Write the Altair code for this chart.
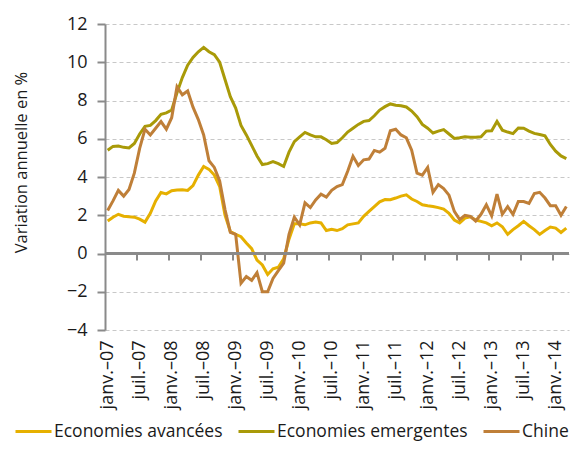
import altair as alt
import pandas as pd

# ---------------- data ----------------
mois = ["janv.", "févr.", "mars", "avr.", "mai", "juin",
        "juil.", "août", "sept.", "oct.", "nov.", "déc."]
months = [f"{mois[m]}–{y:02d}" for y in range(7, 15) for m in range(12)][:87]  # janv.-07 .. mars-14

series = ["Economies avancées", "Economies emergentes", "Chine"]
colors = ["#E6B000", "#A99A08", "#BF7F38"]

advanced = [1.7, 1.9, 2.05, 1.95, 1.92, 1.9, 1.8, 1.64, 2.1, 2.75,
            3.19, 3.12, 3.28, 3.32, 3.33, 3.3, 3.55, 4.1, 4.55, 4.4,
            4.1, 3.5, 2.0, 1.15, 1.0, 0.88, 0.55, 0.25, -0.35, -0.6,
            -1.1, -0.8, -0.72, -0.28, 0.75, 1.55, 1.55, 1.5, 1.6, 1.65,
            1.6, 1.2, 1.27, 1.2, 1.3, 1.5, 1.55, 1.6, 1.94, 2.2,
            2.45, 2.7, 2.82, 2.81, 2.9, 3.0, 3.07, 2.85, 2.72, 2.55,
            2.5, 2.46, 2.4, 2.32, 2.1, 1.75, 1.6, 1.85, 1.92, 1.75,
            1.68, 1.6, 1.45, 1.6, 1.4, 1.0, 1.25, 1.45, 1.68, 1.45,
            1.25, 1.0, 1.2, 1.38, 1.33, 1.1, 1.33]

emerging = [5.4, 5.6, 5.62, 5.55, 5.52, 5.75, 6.25, 6.65, 6.7, 6.95,
            7.28, 7.35, 7.5, 8.4, 9.2, 9.85, 10.25, 10.55, 10.78, 10.55,
            10.4, 10.0, 9.1, 8.2, 7.6, 6.7, 6.2, 5.65, 5.1, 4.65,
            4.7, 4.8, 4.7, 4.55, 5.3, 5.85, 6.1, 6.33, 6.2, 6.1,
            6.1, 5.95, 5.75, 5.8, 6.05, 6.35, 6.55, 6.75, 6.91, 6.95,
            7.2, 7.5, 7.68, 7.82, 7.75, 7.72, 7.66, 7.45, 7.15, 6.75,
            6.55, 6.3, 6.4, 6.48, 6.25, 6.02, 6.05, 6.1, 6.08, 6.08,
            6.1, 6.4, 6.42, 6.9, 6.45, 6.35, 6.27, 6.56, 6.55, 6.4,
            6.28, 6.22, 6.15, 5.7, 5.35, 5.1, 4.96]

china = [2.25, 2.75, 3.3, 3.0, 3.35, 4.2, 5.5, 6.5, 6.2, 6.55,
         6.9, 6.5, 7.1, 8.72, 8.3, 8.5, 7.65, 7.0, 6.2, 4.85,
         4.5, 3.8, 2.3, 1.1, 1.0, -1.55, -1.2, -1.4, -1.0, -2.0,
         -2.0, -1.3, -0.9, -0.5, 1.0, 1.9, 1.5, 2.65, 2.4, 2.8,
         3.1, 2.95, 3.3, 3.5, 3.6, 4.3, 5.08, 4.6, 4.9, 4.94,
         5.39, 5.3, 5.5, 6.42, 6.5, 6.2, 6.05, 5.4, 4.2, 4.1,
         4.5, 3.2, 3.6, 3.4, 3.05, 2.2, 1.78, 2.0, 1.94, 1.7,
         2.05, 2.55, 1.97, 3.1, 2.05, 2.45, 2.05, 2.72, 2.72, 2.62,
         3.13, 3.2, 2.9, 2.5, 2.5, 2.0, 2.46]

tick_labels = months[::6]
y_values = [-4, -2, 0, 2, 4, 6, 8, 10, 12]

rows = []
for name, vals in zip(series, [advanced, emerging, china]):
    for i, v in enumerate(vals):
        rows.append({"idx": i, "mois": months[i], "serie": name, "valeur": v})
df = pd.DataFrame(rows)

# category boundaries where the horizontal axis carries its tick marks
boundaries = pd.DataFrame({"b": [6 * k - 0.5 for k in range(1, 15)]})

# ---------------- layout ----------------
W, H = 464, 306
FONT = "Open Sans"
TXT = "#1a1a1a"
AX = "#8a8a8a"
TICK_DEPTH = -0.37  # ~7 px below zero

label_array = "[" + ",".join("'" + t + "'" for t in tick_labels) + "]"

x_scale = alt.Scale(domain=[-0.5, len(months) - 0.5], nice=False, zero=False)
y_scale = alt.Scale(domain=[-4, 12], nice=False)

x_axis = alt.Axis(
    orient="bottom",
    values=list(range(0, len(months), 6)),
    labelExpr=label_array + "[round(datum.value/6)]",
    labelAngle=270, labelAlign="right", labelBaseline="middle",
    labelFont=FONT, labelFontSize=18, labelColor=TXT,
    labelPadding=10, ticks=False, tickSize=0, domain=False, grid=False,
    title=None, labelOverlap=False,
)
y_axis = alt.Axis(
    values=y_values, title="Variation annuelle en %",
    titleFont=FONT, titleFontSize=16.5, titleFontWeight="normal", titleColor=TXT,
    titleAngle=270, titleAlign="center", titleBaseline="middle",
    titleX=-84, titleY=138,
    labelFont=FONT, labelFontSize=18, labelColor=TXT, labelPadding=10,
    domainColor=AX, domainWidth=2, tickColor=AX, tickWidth=2, tickSize=8,
    gridColor="#c8c8c8", gridDash=[4, 3], gridWidth=1,
)

lines = alt.Chart(df).mark_line(strokeWidth=3).encode(
    x=alt.X("idx:Q", scale=x_scale, axis=x_axis),
    y=alt.Y("valeur:Q", scale=y_scale, axis=y_axis),
    color=alt.Color(
        "serie:N",
        scale=alt.Scale(domain=series, range=colors),
        legend=alt.Legend(
            title=None, orient="none", legendX=-91, legendY=388,
            direction="horizontal", symbolType="stroke", symbolSize=1296,
            symbolStrokeWidth=3, labelFont=FONT, labelFontSize=17.5,
            labelColor=TXT, labelLimit=400, columnPadding=9, labelOffset=1,
        ),
    ),
    detail="serie:N",
)

zero_line = alt.Chart(df).mark_rule(color=AX, strokeWidth=2).encode(
    y=alt.YDatum(0, scale=y_scale, axis=y_axis),
)

zero_ticks = alt.Chart(boundaries).mark_rule(color=AX, strokeWidth=2).encode(
    x=alt.X("b:Q", scale=x_scale, axis=x_axis),
    y=alt.YDatum(0, scale=y_scale, axis=y_axis),
    y2=alt.datum(TICK_DEPTH),
)

chart = (
    alt.layer(lines, zero_line, zero_ticks)
    .properties(
        width=W, height=H,
        autosize=alt.AutoSizeParams(type="none"),
        padding={"left": 97, "top": 16, "right": 7, "bottom": 111},
    )
    .configure_view(stroke=None)
)

chart.save("out.html", embed_options={"renderer": "svg", "actions": False})
